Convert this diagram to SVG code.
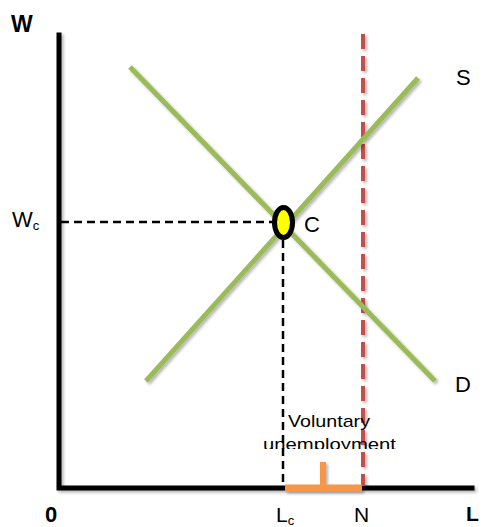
<svg xmlns="http://www.w3.org/2000/svg" width="483" height="527" viewBox="0 0 483 527">
<style>
  .t{font-family:"Liberation Sans",Arial,sans-serif;fill:#000}
  .b{font-weight:bold}
  .axis{stroke:#000;stroke-width:5;fill:none;stroke-linecap:square}
  .curve{stroke:#9BBB59;stroke-width:5;fill:none}
  .guide{stroke:#000;stroke-width:2.5;stroke-dasharray:8,5;fill:none}
  .red{stroke:#C0504D;stroke-width:4;stroke-dasharray:15,7;fill:none}
  .orange{stroke:#F79646;fill:none}
</style>
<defs>
  <filter id="sh" filterUnits="userSpaceOnUse" x="0" y="0" width="483" height="527">
    <feGaussianBlur in="SourceAlpha" stdDeviation="1.5"/>
    <feOffset dx="2" dy="2" result="o"/>
    <feComponentTransfer><feFuncA type="linear" slope="0.3"/></feComponentTransfer>
    <feMerge><feMergeNode/><feMergeNode in="SourceGraphic"/></feMerge>
  </filter>
  <clipPath id="clipText"><rect x="0" y="400" width="483" height="49"/></clipPath>
</defs>
<g id="axes" filter="url(#sh)">
  <polyline class="axis" points="59,35 59,488 472,488"/>
</g>
<g id="connectors">
  <line class="guide" x1="61" y1="222" x2="272" y2="222"/>
  <line class="guide" x1="283" y1="240" x2="283" y2="486"/>
  <line class="red" x1="363" y1="34" x2="363" y2="486" filter="url(#sh)"/>
  <line id="S" class="curve" x1="146" y1="381" x2="418" y2="78" filter="url(#sh)"/>
  <line id="D" class="curve" x1="130" y1="67" x2="435" y2="381" filter="url(#sh)"/>
  <g id="vu-bracket" filter="url(#sh)">
    <line class="orange" x1="285" y1="488" x2="362" y2="488" stroke-width="7"/>
    <line class="orange" x1="323" y1="462" x2="323" y2="488" stroke-width="6"/>
  </g>
</g>
<g id="node-C">
  <ellipse cx="283.5" cy="222.5" rx="9" ry="15" fill="#FFFF00" stroke="#000" stroke-width="5"/>
  <text class="t" x="304" y="232" font-size="22">C</text>
</g>
<g id="labels">
  <text class="t b" x="11" y="32" font-size="23">W</text>
  <text class="t" x="12" y="227" font-size="22">W<tspan font-size="13" dy="3">c</tspan></text>
  <text class="t" x="456" y="85" font-size="22">S</text>
  <text class="t" x="455" y="392" font-size="22">D</text>
  <text class="t b" x="45" y="522" font-size="22">0</text>
  <text class="t" x="276" y="522" font-size="21">L<tspan font-size="13" dy="3">c</tspan></text>
  <text class="t" x="354" y="522" font-size="21">N</text>
  <text class="t b" x="466" y="521" font-size="21">L</text>
  <g clip-path="url(#clipText)">
    <text class="t" x="288" y="427" font-size="17" textLength="82" lengthAdjust="spacingAndGlyphs">Voluntary</text>
    <text class="t" x="263" y="450" font-size="17" textLength="133" lengthAdjust="spacingAndGlyphs">unemployment</text>
  </g>
</g>
</svg>
